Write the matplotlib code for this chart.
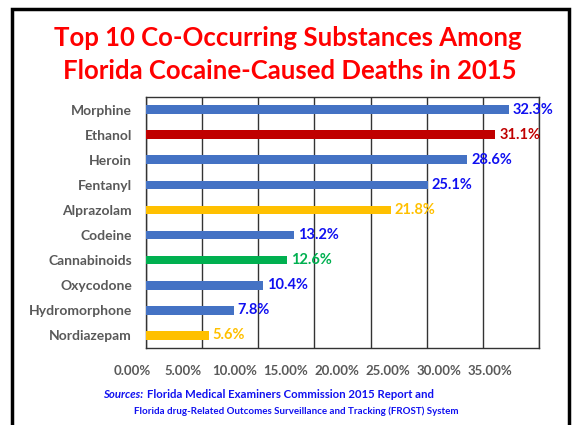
import matplotlib
matplotlib.use('Agg')
import matplotlib.pyplot as plt
from matplotlib.patches import Rectangle

plt.rcParams['font.family'] = ['Lato', 'DejaVu Sans']

substances = ['Morphine', 'Ethanol', 'Heroin', 'Fentanyl', 'Alprazolam', 'Codeine',
              'Cannabinoids', 'Oxycodone', 'Hydromorphone', 'Nordiazepam']
values = [32.3, 31.1, 28.6, 25.1, 21.8, 13.2, 12.6, 10.4, 7.8, 5.6]
bar_colors = ['#4472C4', '#C00000', '#4472C4', '#4472C4', '#FFC000', '#4472C4',
              '#00B050', '#4472C4', '#4472C4', '#FFC000']
label_colors = ['#1010F0', '#C00000', '#1010F0', '#1010F0', '#FFC000', '#1010F0',
                '#00B050', '#1010F0', '#1010F0', '#FFC000']
xticks = [0, 5, 10, 15, 20, 25, 30, 35]
src_blue = '#1010F0'

fig = plt.figure(figsize=(5.78, 4.25), dpi=100)
fig.patches.append(Rectangle((12/578, -0.1), (569-12)/578, 1.1 - 9/425, transform=fig.transFigure,
                             fill=False, edgecolor='black', linewidth=2.5))

ax = fig.add_axes([146/578, 1 - 348/425, (539-146)/578, (348-97)/425])
y = list(range(len(substances)))
ax.barh(y, values, height=0.34, color=bar_colors, zorder=3)
for i in range(len(values)):
    ax.text(values[i] + 0.35, y[i], '%.1f%%' % values[i], va='center', ha='left',
            color=label_colors[i], fontsize=10.5, fontweight='bold', zorder=4)

ax.set_xlim(0, 35)
ax.set_ylim(len(substances) - 0.5, -0.5)
ax.set_xticks(xticks)
ax.set_xticklabels([])
ax.set_yticks(y)
ax.set_yticklabels(substances)
ax.tick_params(length=0, labelsize=10, labelcolor='#595959', pad=10)
for lab in ax.get_yticklabels():
    lab.set_fontweight('bold')
ax.grid(axis='x', color='#333333', linewidth=1.0, zorder=0)
for s in ax.spines.values():
    s.set_color('#333333')
    s.set_linewidth(1.0)

# x tick labels sit on a slightly narrower scale than the gridlines in the original
lab_ax = fig.add_axes([132/578, 1 - 348/425, (490-132)/578, 0.001])
lab_ax.set_xlim(0, 35)
lab_ax.set_xticks(xticks)
lab_ax.set_xticklabels(['%.2f%%' % t for t in xticks])
lab_ax.set_yticks([])
lab_ax.patch.set_alpha(0)
for s in lab_ax.spines.values():
    s.set_visible(False)
lab_ax.tick_params(length=0, labelsize=9.5, labelcolor='#595959', pad=12.5)
for lab in lab_ax.get_xticklabels():
    lab.set_fontweight('bold')

fig.text(288/578, 1 - 38/425, 'Top 10 Co-Occurring Substances Among', ha='center', va='center',
         color='#FF0000', fontsize=18.5, fontweight='bold')
fig.text(290/578, 1 - 71/425, 'Florida Cocaine-Caused Deaths in 2015', ha='center', va='center',
         color='#FF0000', fontsize=18.5, fontweight='bold')

# source note, each line sized to the width it takes in the original
renderer = fig.canvas.get_renderer()


def fit_line(parts, x0, x1, ypix, size=8):
    items = []
    for txt, sty in parts:
        items.append(fig.text(0, 1 - ypix/425, txt, ha='left', va='center', color=src_blue,
                              fontsize=size, fontweight='bold', style=sty))
    gap = 0.45 * size
    total = sum(t.get_window_extent(renderer).width for t in items) + gap * (len(items) - 1)
    scale = (x1 - x0) / total
    xpos = x0
    for t in items:
        t.set_fontsize(size * scale)
        t.set_x(xpos / 578)
        xpos += t.get_window_extent(renderer).width + gap * scale


fit_line([('Sources:', 'italic'), ('Florida Medical Examiners Commission 2015 Report and', 'normal')],
         103, 436, 394)
fit_line([('Florida drug-Related Outcomes Surveillance and Tracking (FROST) System', 'normal')],
         134, 457, 411)

fig.savefig('out.png', dpi=100)
